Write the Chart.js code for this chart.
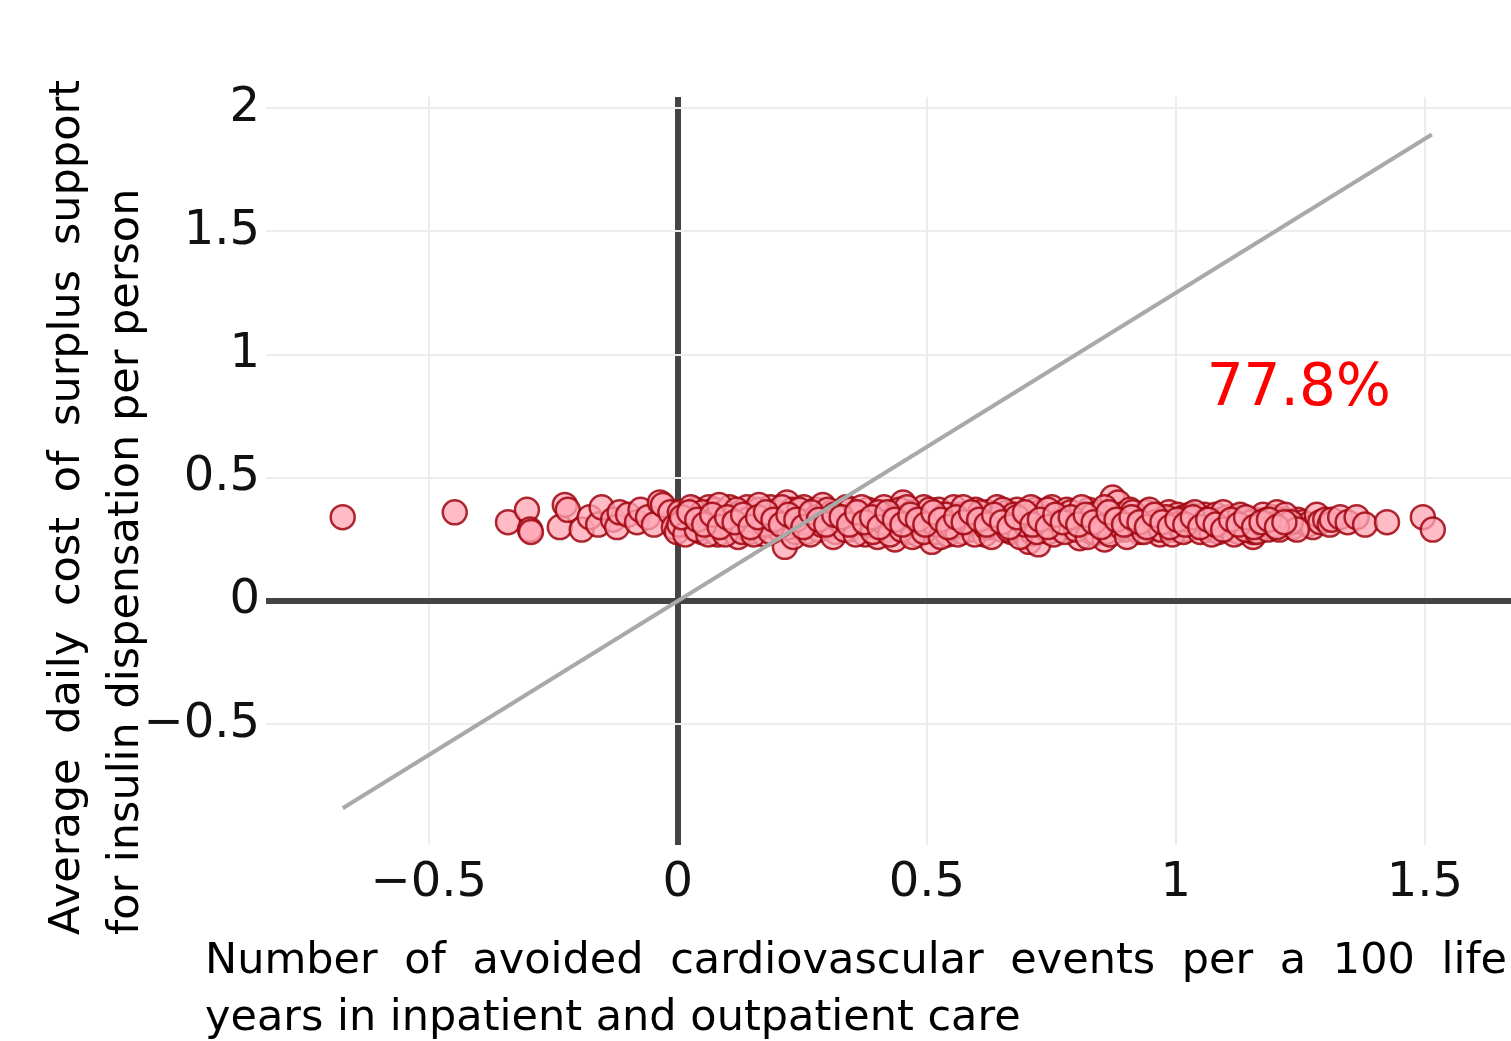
<!DOCTYPE html>
<html>
<head>
<meta charset="utf-8">
<script src="https://cdn.jsdelivr.net/npm/chart.js@4.4.1/dist/chart.umd.min.js"></script>
<style>
    html, body { margin: 0; padding: 0; background: #fff; overflow: hidden; }
    canvas { display: block; }
</style>
</head>
<body>
<canvas id="icerChart" width="1511" height="1041"></canvas>
<script>
// ============================================================
// Cost-effectiveness plane - avoided CV events vs daily cost
// ============================================================

const xTicks = [-0.5, 0, 0.5, 1, 1.5];
const yTicks = [-0.5, 0, 0.5, 1, 1.5, 2];

const xTitleLines = ['Number of avoided cardiovascular events per a 100 life', 'years in inpatient and outpatient care'];
const yTitleLines = ['Average daily cost of surplus support', 'for insulin dispensation per person'];

const shareLabel = '77.8%';

// willingness-to-pay threshold line ends
const thresholdX = [-0.673, 1.514];
const thresholdY = [-0.841, 1.893];

// simulation points (avoided events, daily cost)
const eventsAvoided = [
    -0.673, -0.448, -0.341, -0.303, -0.297, -0.295, -0.237, -0.227, -0.221, -0.193,
    -0.177, -0.160, -0.153, -0.130, -0.122, -0.117, -0.100, -0.082, -0.075, -0.060,
    -0.048, -0.036, -0.030, -0.015, -0.008, -0.002, 0.004, 0.012,
    0.020, 0.028, 0.035, 0.041, 0.048, 0.055, 0.062, 0.068, 0.074, 0.080,
    0.086, 0.092, 0.098, 0.104, 0.110, 0.116, 0.121, 0.127, 0.133, 0.139,
    0.145, 0.151, 0.157, 0.162, 0.168, 0.174, 0.180, 0.186, 0.192, 0.198,
    0.204, 0.210, 0.215, 0.219, 0.224, 0.230, 0.236, 0.242, 0.248, 0.253,
    0.259, 0.265, 0.271, 0.277, 0.283, 0.291, 0.297, 0.304, 0.310, 0.317,
    0.325, 0.331, 0.338, 0.345, 0.352, 0.358, 0.365, 0.370, 0.376, 0.382,
    0.389, 0.395, 0.401, 0.408, 0.414, 0.420, 0.426, 0.432, 0.436, 0.441,
    0.446, 0.452, 0.446, 0.458, 0.464, 0.470, 0.476, 0.482, 0.488, 0.494, 0.500,
    0.506, 0.510, 0.512, 0.518, 0.524, 0.530, 0.536, 0.542, 0.548, 0.554,
    0.560, 0.566, 0.572, 0.578, 0.586, 0.592, 0.598, 0.604, 0.610, 0.616,
    0.622, 0.628, 0.634, 0.641, 0.647, 0.651, 0.657, 0.663, 0.669, 0.675,
    0.681, 0.687, 0.693, 0.699, 0.705, 0.710, 0.713, 0.718, 0.724, 0.727,
    0.733, 0.739, 0.745, 0.751, 0.757, 0.763, 0.769, 0.775, 0.781, 0.787,
    0.793, 0.801, 0.807, 0.813, 0.819, 0.825, 0.831, 0.837, 0.841, 0.847,
    0.853, 0.857, 0.861, 0.867, 0.873, 0.878, 0.884, 0.890, 0.896, 0.902,
    0.908, 0.914, 0.920, 0.926, 0.934, 0.940, 0.946, 0.952, 0.958, 0.962,
    0.968, 0.974, 0.980, 0.986, 0.992, 0.998,
    1.004, 1.010, 1.016, 1.022, 1.028, 1.034, 1.040, 1.046, 1.052, 1.058,
    1.064, 1.068, 1.074, 1.080, 1.086, 1.092, 1.098, 1.104, 1.108, 1.114,
    1.120, 1.126, 1.132, 1.138, 1.144, 1.149, 1.155, 1.155, 1.160, 1.166,
    1.175, 1.183, 1.190, 1.196, 1.203, 1.210, 1.218, 1.228, 1.235, 1.245,
    1.255, 1.265, 1.275, 1.283, 1.290, 1.300, 1.309, 1.313, 1.330, 1.345,
    1.363, 1.380, 1.424, 1.496, 1.516,
    // second batch, inside the dense band
    0.003, 0.015, 0.026, 0.038, 0.050, 0.061, 0.072, 0.083, 0.095, 0.106,
    0.118, 0.129, 0.141, 0.152, 0.163, 0.175, 0.186, 0.197, 0.209, 0.221,
    0.232, 0.244, 0.255, 0.266, 0.278, 0.289, 0.301, 0.312, 0.323, 0.335,
    0.346, 0.357, 0.369, 0.380, 0.392, 0.403, 0.414, 0.426, 0.437, 0.449,
    0.460, 0.471, 0.483, 0.494, 0.505, 0.517, 0.528, 0.539, 0.551, 0.562,
    0.573, 0.585, 0.596, 0.607, 0.619, 0.630, 0.641, 0.653, 0.664, 0.675,
    0.687, 0.698, 0.709, 0.721, 0.732, 0.743, 0.755, 0.766, 0.777, 0.789,
    0.800, 0.811, 0.823, 0.834, 0.845, 0.857, 0.868, 0.879, 0.891, 0.902,
    0.913, 0.925, 0.936, 0.947, 0.959, 0.970, 0.981, 0.993, 1.004, 1.015,
    1.027, 1.038, 1.049, 1.061, 1.072, 1.083, 1.095, 1.106, 1.117, 1.129,
    1.140, 1.151, 1.163, 1.174, 1.185, 1.197, 1.208, 1.220, 1.231, 1.243,
    // third batch, centre of the band
    0.008, 0.023, 0.039, 0.053, 0.069, 0.084, 0.099, 0.114, 0.131, 0.146,
    0.161, 0.177, 0.192, 0.207, 0.222, 0.238, 0.252, 0.268, 0.283, 0.298,
    0.314, 0.329, 0.344, 0.360, 0.375, 0.390, 0.405, 0.421, 0.436, 0.451,
    0.467, 0.482, 0.497, 0.513, 0.528, 0.543, 0.559, 0.574, 0.589, 0.605,
    0.620, 0.635, 0.651, 0.666, 0.681, 0.697, 0.712, 0.727, 0.743, 0.758,
    0.773, 0.789, 0.804, 0.819, 0.835, 0.850, 0.865, 0.881, 0.896, 0.911,
    0.927, 0.942, 0.957, 0.973, 0.988, 1.003, 1.019, 1.034, 1.049, 1.065,
    1.080, 1.095, 1.111, 1.126, 1.141, 1.157, 1.172, 1.187, 1.203, 1.218
];

const dailyCost = [
    0.34, 0.36, 0.32, 0.37, 0.29, 0.28, 0.30, 0.39, 0.37, 0.29,
    0.34, 0.31, 0.38, 0.33, 0.30, 0.36, 0.35, 0.32, 0.37, 0.34,
    0.31, 0.40, 0.39, 0.36, 0.30, 0.28, 0.36, 0.33,
    0.35, 0.30, 0.37, 0.32, 0.28, 0.34, 0.38, 0.31, 0.37, 0.27,
    0.33, 0.36, 0.30, 0.38, 0.29, 0.34, 0.26, 0.36, 0.31, 0.38,
    0.28, 0.35, 0.32, 0.37, 0.30, 0.27, 0.34, 0.38, 0.31, 0.36,
    0.29, 0.35, 0.22, 0.40, 0.32, 0.37, 0.28, 0.34, 0.30, 0.38,
    0.28, 0.35, 0.32, 0.37, 0.29, 0.39, 0.33, 0.30, 0.36, 0.28,
    0.36, 0.32, 0.38, 0.29, 0.34, 0.31, 0.34, 0.33, 0.27, 0.37,
    0.30, 0.35, 0.26, 0.33, 0.38, 0.29, 0.35, 0.31, 0.25, 0.37,
    0.30, 0.40, 0.37, 0.33, 0.28, 0.36, 0.31, 0.27, 0.34, 0.38, 0.30,
    0.33, 0.24, 0.34, 0.28, 0.37, 0.31, 0.35, 0.27, 0.33, 0.38,
    0.30, 0.35, 0.28, 0.32, 0.35, 0.29, 0.37, 0.31, 0.34, 0.27,
    0.36, 0.30, 0.33, 0.38, 0.34, 0.29, 0.31, 0.36, 0.28, 0.33,
    0.37, 0.30, 0.34, 0.26, 0.24, 0.32, 0.275, 0.37, 0.23, 0.36,
    0.30, 0.34, 0.28, 0.38, 0.31, 0.35, 0.29, 0.33, 0.37, 0.30,
    0.34, 0.33, 0.255, 0.34, 0.30, 0.37, 0.28, 0.33, 0.275, 0.36,
    0.30, 0.25, 0.28, 0.34, 0.42, 0.31, 0.40, 0.35, 0.29, 0.33,
    0.37, 0.30, 0.34, 0.28, 0.33, 0.36, 0.30, 0.34, 0.29, 0.35,
    0.27, 0.34, 0.31, 0.36, 0.29, 0.33,
    0.35, 0.30, 0.34, 0.29, 0.35, 0.32, 0.30, 0.34, 0.31, 0.35,
    0.29, 0.30, 0.32, 0.35, 0.28, 0.33, 0.31, 0.34, 0.29, 0.31,
    0.34, 0.28, 0.32, 0.30, 0.33, 0.30, 0.26, 0.28, 0.33, 0.31,
    0.35, 0.33, 0.30, 0.34, 0.36, 0.31, 0.33, 0.31, 0.30, 0.33,
    0.32, 0.31, 0.30, 0.35, 0.32, 0.33, 0.31, 0.33, 0.34, 0.32,
    0.34, 0.31, 0.32, 0.34, 0.29,
    // second batch
    0.31, 0.27, 0.38, 0.29, 0.36, 0.27, 0.33, 0.39, 0.27, 0.33,
    0.37, 0.28, 0.33, 0.27, 0.39, 0.31, 0.28, 0.33, 0.38, 0.30,
    0.26, 0.37, 0.32, 0.27, 0.34, 0.31, 0.37, 0.26, 0.33, 0.29,
    0.37, 0.27, 0.38, 0.31, 0.28, 0.36, 0.32, 0.27, 0.34, 0.29,
    0.38, 0.26, 0.32, 0.28, 0.37, 0.31, 0.26, 0.35, 0.30, 0.27,
    0.38, 0.32, 0.27, 0.36, 0.30, 0.26, 0.33, 0.37, 0.29, 0.35,
    0.26, 0.31, 0.38, 0.28, 0.33, 0.37, 0.27, 0.32, 0.28, 0.36,
    0.29, 0.38, 0.26, 0.35, 0.31, 0.38, 0.27, 0.33, 0.30, 0.26,
    0.36, 0.31, 0.28, 0.37, 0.32, 0.29, 0.34, 0.27, 0.31, 0.28,
    0.33, 0.36, 0.28, 0.33, 0.27, 0.31, 0.36, 0.32, 0.27, 0.35,
    0.29, 0.32, 0.28, 0.31, 0.29, 0.31, 0.29, 0.35, 0.32, 0.29,
    // third batch
    0.34, 0.36, 0.33, 0.31, 0.35, 0.30, 0.34, 0.32, 0.35, 0.30,
    0.34, 0.36, 0.33, 0.31, 0.35, 0.33, 0.30, 0.36, 0.33, 0.31,
    0.35, 0.34, 0.31, 0.36, 0.32, 0.34, 0.30, 0.36, 0.33, 0.31,
    0.35, 0.33, 0.31, 0.36, 0.33, 0.30, 0.34, 0.32, 0.36, 0.33,
    0.31, 0.35, 0.32, 0.30, 0.34, 0.36, 0.31, 0.33, 0.30, 0.35,
    0.32, 0.34, 0.31, 0.35, 0.32, 0.30, 0.36, 0.33, 0.31, 0.34,
    0.32, 0.30, 0.35, 0.32, 0.30, 0.33, 0.31, 0.34, 0.30, 0.33,
    0.31, 0.29, 0.33, 0.31, 0.34, 0.30, 0.32, 0.33, 0.30, 0.32
];

const FONT = '"DejaVu Sans", Verdana, sans-serif';
const fmtTick = v => (v < 0 ? '\u2212' + Math.abs(v) : String(v));

// draws a line of words spread evenly over a given length
function drawJustified(ctx, text, x, y, len) {
    const words = text.split(' ');
    const widths = words.map(w => ctx.measureText(w).width);
    const total = widths.reduce((a, b) => a + b, 0);
    const gap = (len - total) / (words.length - 1);
    let pos = x;
    words.forEach((w, i) => {
        ctx.fillText(w, pos, y);
        pos += widths[i] + gap;
    });
}

const axisTitles = {
    id: 'axisTitles',
    afterDraw(chart) {
        const ctx = chart.ctx;
        const xs = chart.scales.x, ys = chart.scales.y;
        ctx.save();
        ctx.fillStyle = '#000';
        ctx.textBaseline = 'alphabetic';
        ctx.textAlign = 'left';
        ctx.font = '43px ' + FONT;
        drawJustified(ctx, xTitleLines[0], 205, 973, 1302);
        ctx.fillText(xTitleLines[1], 205, 1030);

        ctx.save();
        ctx.translate(79, 935);
        ctx.rotate(-Math.PI / 2);
        drawJustified(ctx, yTitleLines[0], 0, 0, 855);
        ctx.restore();
        ctx.save();
        ctx.translate(138, 935);
        ctx.rotate(-Math.PI / 2);
        ctx.fillText(yTitleLines[1], 0, 0);
        ctx.restore();

        // share of simulations under threshold
        ctx.fillStyle = '#ff0000';
        ctx.font = '58px ' + FONT;
        ctx.fillText(shareLabel, xs.getPixelForValue(1.062), ys.getPixelForValue(0.795));
        ctx.restore();
    }
};

const points = eventsAvoided.map((x, i) => ({ x: x, y: dailyCost[i] }));
const threshold = thresholdX.map((x, i) => ({ x: x, y: thresholdY[i] }));

const ctx = document.getElementById('icerChart');
new Chart(ctx, {
    type: 'scatter',
    data: {
        datasets: [
            {
                type: 'line',
                label: 'Threshold',
                data: threshold,
                borderColor: '#a9a9a9',
                borderWidth: 4,
                pointRadius: 0,
                fill: false,
                order: 0
            },
            {
                label: 'Simulations',
                data: points,
                backgroundColor: 'rgba(255, 165, 180, 0.75)',
                borderColor: 'rgba(160, 5, 15, 0.85)',
                borderWidth: 2.5,
                pointRadius: 12,
                order: 1
            }
        ]
    },
    options: {
        responsive: false,
        animation: false,
        devicePixelRatio: 1,
        layout: { autoPadding: false, padding: { top: 97, right: 0, bottom: 0, left: 0 } },
        plugins: {
            legend: { display: false },
            tooltip: { enabled: false }
        },
        scales: {
            x: {
                type: 'linear',
                min: -0.827,
                max: 1.673,
                afterBuildTicks: s => { s.ticks = xTicks.map(v => ({ value: v })); },
                afterFit: s => { s.height = 196; s.paddingLeft = 0; s.paddingRight = 0; },
                border: { display: false },
                grid: {
                    drawTicks: false,
                    color: c => (c.tick && c.tick.value === 0 ? '#444' : '#ececec'),
                    lineWidth: c => (c.tick && c.tick.value === 0 ? 6 : 2)
                },
                ticks: {
                    padding: 10,
                    color: '#111',
                    font: { family: FONT, size: 48 },
                    callback: v => fmtTick(v)
                }
            },
            y: {
                type: 'linear',
                min: -0.99,
                max: 2.045,
                afterBuildTicks: s => { s.ticks = yTicks.map(v => ({ value: v })); },
                afterFit: s => { s.width = 266; s.paddingTop = 0; s.paddingBottom = 0; },
                border: { display: false },
                grid: {
                    drawTicks: false,
                    color: c => (c.tick && c.tick.value === 0 ? '#444' : '#ececec'),
                    lineWidth: c => (c.tick && c.tick.value === 0 ? 6 : 2)
                },
                ticks: {
                    padding: 6,
                    color: '#111',
                    font: { family: FONT, size: 48 },
                    callback: v => fmtTick(v)
                }
            }
        }
    },
    plugins: [axisTitles]
});
</script>
</body>
</html>
